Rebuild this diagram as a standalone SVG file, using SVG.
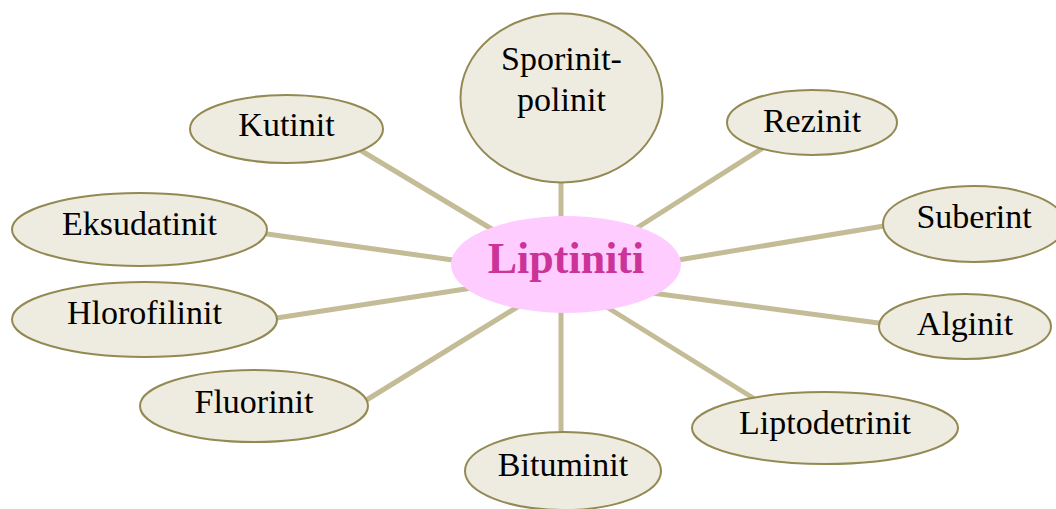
<svg xmlns="http://www.w3.org/2000/svg" width="1056" height="509" viewBox="0 0 1056 509">
<style>
.n ellipse{fill:#EEECE1;stroke:#938953;stroke-width:2}
.n text{font-family:"Liberation Serif",serif;font-size:34px;fill:#000;text-anchor:middle}
#connectors line{stroke:#C4BC96;stroke-width:5;stroke-linecap:butt}
</style>
<rect width="1056" height="509" fill="#fff"/>
<g id="connectors">
<line x1="561" y1="175" x2="561" y2="225"/>
<line x1="561" y1="305" x2="561" y2="440"/>
<line x1="355" y1="147" x2="495" y2="231"/>
<line x1="769" y1="144" x2="632" y2="231"/>
<line x1="890" y1="225" x2="672" y2="261"/>
<line x1="886" y1="324" x2="652" y2="293"/>
<line x1="758" y1="401" x2="605" y2="306"/>
<line x1="360" y1="404" x2="519" y2="306"/>
<line x1="270" y1="319" x2="472" y2="288"/>
<line x1="260" y1="233" x2="460" y2="261"/>
</g>
<g id="center">
<ellipse cx="566" cy="264.5" rx="115" ry="48.5" fill="#FFCCFF"/>
<text x="566" y="273" font-family="'Liberation Serif',serif" font-size="44" font-weight="bold" fill="#CC3399" text-anchor="middle">Liptiniti</text>
</g>
<g id="sporinit" class="n"><ellipse cx="561.5" cy="98" rx="101" ry="84.5"/><text x="561.5" y="70">Sporinit-</text><text x="561.5" y="111">polinit</text></g>
<g id="kutinit" class="n"><ellipse cx="286.5" cy="129" rx="96.5" ry="34"/><text x="286.5" y="136">Kutinit</text></g>
<g id="eksudatinit" class="n"><ellipse cx="139.5" cy="229.5" rx="127.5" ry="36.5"/><text x="139.5" y="235">Eksudatinit</text></g>
<g id="hlorofilinit" class="n"><ellipse cx="144.5" cy="319.5" rx="132.5" ry="37.5"/><text x="144.5" y="324">Hlorofilinit</text></g>
<g id="fluorinit" class="n"><ellipse cx="254" cy="406" rx="114" ry="36"/><text x="254" y="413">Fluorinit</text></g>
<g id="bituminit" class="n"><ellipse cx="563" cy="471" rx="98" ry="39"/><text x="563" y="476">Bituminit</text></g>
<g id="liptodetrinit" class="n"><ellipse cx="825" cy="428" rx="133" ry="36"/><text x="825" y="434">Liptodetrinit</text></g>
<g id="alginit" class="n"><ellipse cx="965" cy="326.5" rx="86" ry="32.5"/><text x="965" y="335">Alginit</text></g>
<g id="suberint" class="n"><ellipse cx="974" cy="224" rx="91" ry="38"/><text x="974" y="228">Suberint</text></g>
<g id="rezinit" class="n"><ellipse cx="812" cy="122.5" rx="85" ry="32.5"/><text x="812" y="132">Rezinit</text></g>
</svg>
